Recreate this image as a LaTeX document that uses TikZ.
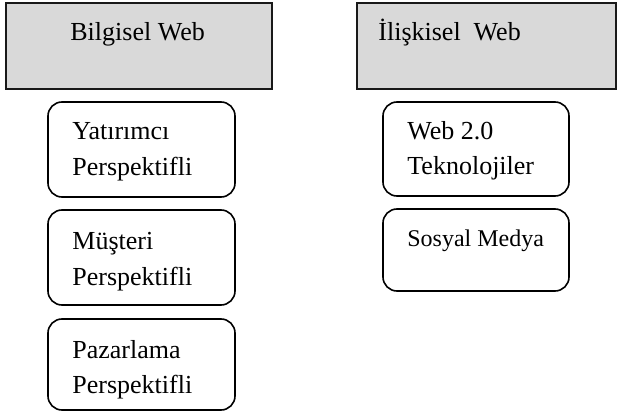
\documentclass[tikz,border=0pt]{standalone}
\usepackage{fontspec}
\setmainfont{Liberation Serif}
\definecolor{headgray}{RGB}{217,217,217}

\begin{document}
\begin{tikzpicture}[x=0.5pt,y=-0.5pt,
  every node/.style={font=\fontsize{13}{17.5}\selectfont},
  headbox/.style={draw=black!90,fill=headgray,line width=1pt,inner sep=0pt},
  itembox/.style={draw,rounded corners=7pt,line width=0.8pt,inner sep=0pt},
  itemtext/.style={align=left,anchor=base west,inner sep=0pt}]
  \useasboundingbox (0,0) rectangle (617,412);
  % header boxes
  \node[headbox,minimum width=133pt,minimum height=43pt] (bilgisel) at (139,46) {};
  \node[headbox,minimum width=129.5pt,minimum height=43pt] (iliskisel) at (486.5,46) {};
  \node[itemtext] (bilgiselText) at (70,40) {Bilgisel Web};
  \node[itemtext] (iliskiselText) at (378,40) {İlişkisel\ \ Web};
  % left column (base = last line)
  \node[itembox,minimum width=93.5pt,minimum height=47.5pt] (yatirimci) at (141.5,149.5) {};
  \node[itembox,minimum width=93.5pt,minimum height=47.5pt] (musteri) at (141.5,257.5) {};
  \node[itembox,minimum width=93.5pt,minimum height=45.5pt] (pazarlama) at (141.5,364.5) {};
  \node[itemtext] (yatirimciText) at (72,175) {Yatırımcı\\Perspektifli};
  \node[itemtext] (musteriText) at (72,285) {Müşteri\\Perspektifli};
  \node[itemtext] (pazarlamaText) at (72,393) {Pazarlama\\Perspektifli};
  % right column
  \node[itembox,minimum width=93pt,minimum height=47pt] (webiki) at (476,149) {};
  \node[itembox,minimum width=93pt,minimum height=41pt] (sosyal) at (476,250) {};
  \node[itemtext] (webikiText) at (407,174) {Web 2.0\\Teknolojiler};
  \node[itemtext,font=\fontsize{12}{14}\selectfont] (sosyalText) at (407,246) {Sosyal Medya};
\end{tikzpicture}
\end{document}
